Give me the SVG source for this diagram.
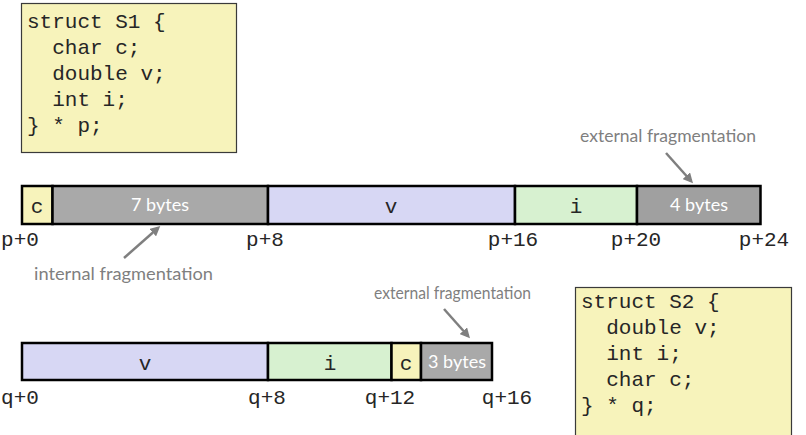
<svg xmlns="http://www.w3.org/2000/svg" width="806" height="435" viewBox="0 0 806 435">
  <style>
    .code { font-family: "Liberation Mono", "Courier New", monospace; font-size: 21px; fill: #262626; }
    .codebox { fill: #f7f3bb; stroke: #3a3a3a; stroke-width: 1.2; }
    .cell { stroke: #000; stroke-width: 2.5; }
    .yellow { fill: #f7f3bb; }
    .gray { fill: #a9a9a9; }
    .dgray { fill: #a0a0a0; }
    .blue { fill: #d7d7f4; }
    .green { fill: #d7f1d0; }
    .field { font-family: "Liberation Mono", "Courier New", monospace; font-size: 21px; fill: #262626; text-anchor: middle; }
    .pad { font-family: Lato, "Open Sans", sans-serif; font-size: 18px; fill: #fff; text-anchor: middle; }
    .note { font-family: Lato, "Open Sans", sans-serif; font-size: 18px; fill: #7f7f7f; }
    .off { font-family: "Liberation Mono", "Courier New", monospace; font-size: 21px; fill: #262626; text-anchor: middle; }
    .arrow { stroke: #7f7f7f; stroke-width: 2.5; fill: none; marker-end: url(#head); }
  </style>
  <defs>
    <marker id="head" viewBox="0 0 10 10" refX="7" refY="5" markerWidth="4" markerHeight="4" orient="auto" markerUnits="strokeWidth">
      <path d="M0,0 L10,5 L0,10 z" fill="#7f7f7f"/>
    </marker>
  </defs>

  <!-- struct S1 declaration -->
  <g id="s1-code">
    <rect class="codebox" x="21.5" y="3.5" width="215" height="149"/>
    <text class="code" x="27" y="28" xml:space="preserve">struct S1 {</text>
    <text class="code" x="27" y="54" xml:space="preserve">  char c;</text>
    <text class="code" x="27" y="80" xml:space="preserve">  double v;</text>
    <text class="code" x="27" y="106" xml:space="preserve">  int i;</text>
    <text class="code" x="27" y="132" xml:space="preserve">} * p;</text>
  </g>

  <!-- S1 memory layout -->
  <g id="s1-c">
    <rect class="cell yellow" x="22" y="186" width="30.5" height="38"/>
    <text class="field" x="37" y="213">c</text>
  </g>
  <g id="s1-pad7">
    <rect class="cell gray" x="52.5" y="186" width="215.5" height="38"/>
    <text class="pad" x="160" y="211">7 bytes</text>
  </g>
  <g id="s1-v">
    <rect class="cell blue" x="268" y="186" width="247" height="38"/>
    <text class="field" x="391" y="213">v</text>
  </g>
  <g id="s1-i">
    <rect class="cell green" x="515" y="186" width="122" height="38"/>
    <text class="field" x="576" y="213">i</text>
  </g>
  <g id="s1-pad4">
    <rect class="cell dgray" x="637" y="186" width="123.5" height="38"/>
    <text class="pad" x="699" y="211">4 bytes</text>
  </g>

  <g id="s1-offsets">
    <text class="off" x="20" y="246">p+0</text>
    <text class="off" x="265" y="246">p+8</text>
    <text class="off" x="513" y="246">p+16</text>
    <text class="off" x="636" y="246">p+20</text>
    <text class="off" x="764" y="246">p+24</text>
  </g>

  <g id="s1-notes">
    <text class="note" x="34" y="280" textLength="179" lengthAdjust="spacingAndGlyphs">internal fragmentation</text>
    <text class="note" x="580" y="142" textLength="176" lengthAdjust="spacingAndGlyphs">external fragmentation</text>
  </g>

  <!-- struct S2 declaration -->
  <g id="s2-code">
    <rect class="codebox" x="575.5" y="287.5" width="216" height="160"/>
    <text class="code" x="581" y="308" xml:space="preserve">struct S2 {</text>
    <text class="code" x="581" y="334" xml:space="preserve">  double v;</text>
    <text class="code" x="581" y="360" xml:space="preserve">  int i;</text>
    <text class="code" x="581" y="386" xml:space="preserve">  char c;</text>
    <text class="code" x="581" y="412" xml:space="preserve">} * q;</text>
  </g>

  <!-- S2 memory layout -->
  <g id="s2-v">
    <rect class="cell blue" x="22" y="343" width="246" height="37"/>
    <text class="field" x="145" y="370">v</text>
  </g>
  <g id="s2-i">
    <rect class="cell green" x="268" y="343" width="123.5" height="37"/>
    <text class="field" x="330" y="370">i</text>
  </g>
  <g id="s2-c">
    <rect class="cell yellow" x="391.5" y="343" width="29.5" height="37"/>
    <text class="field" x="406" y="370">c</text>
  </g>
  <g id="s2-pad3">
    <rect class="cell gray" x="421" y="343" width="71" height="37"/>
    <text class="pad" x="457" y="368">3 bytes</text>
  </g>

  <g id="s2-offsets">
    <text class="off" x="20" y="404">q+0</text>
    <text class="off" x="267" y="404">q+8</text>
    <text class="off" x="390" y="404">q+12</text>
    <text class="off" x="507" y="404">q+16</text>
  </g>

  <g id="s2-notes">
    <text class="note" x="374" y="299" textLength="157" lengthAdjust="spacingAndGlyphs">external fragmentation</text>
  </g>

  <!-- pointer arrows -->
  <g id="connectors">
    <line class="arrow" x1="124" y1="258" x2="158" y2="228"/>
    <line class="arrow" x1="666" y1="153" x2="691" y2="181"/>
    <line class="arrow" x1="444" y1="309" x2="468" y2="336"/>
  </g>
</svg>
